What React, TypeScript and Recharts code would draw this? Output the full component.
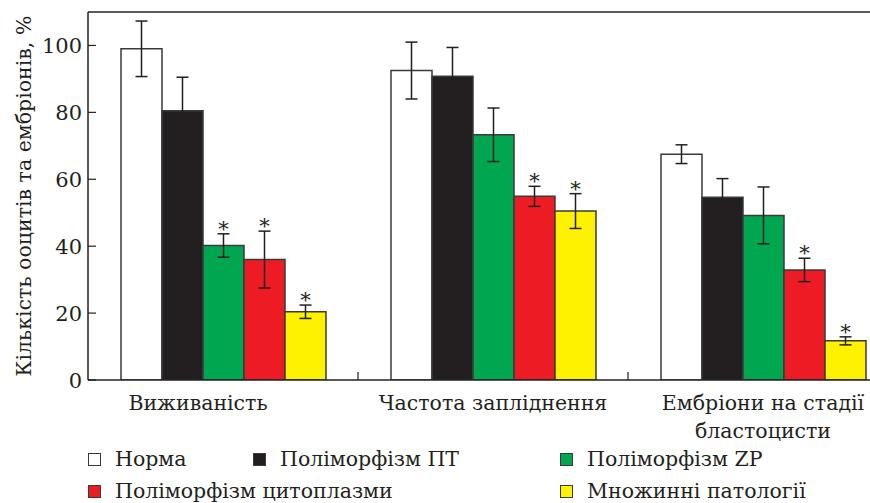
import React from 'react';
import { BarChart, Bar, XAxis, YAxis, ErrorBar, LabelList, ReferenceLine } from 'recharts';

const categories = ['Виживаність', 'Частота запліднення', 'Ембріони на стадії\nбластоцисти'];
const yTicks = [0, 20, 40, 60, 80, 100];

const norma = [99, 92.5, 67.5];
const normaErr = [8.3, 8.5, 2.8];
const pt = [80.5, 90.8, 54.6];
const ptErr = [10, 8.6, 5.6];
const zp = [40.2, 73.3, 49.2];
const zpErr = [3.5, 8, 8.5];
const cyto = [36, 54.9, 32.9];
const cytoErr = [8.5, 3, 3.5];
const multi = [20.4, 50.5, 11.7];
const multiErr = [2, 5.2, 1.2];

const normaSig = [false, false, false];
const ptSig = [false, false, false];
const zpSig = [true, false, false];
const cytoSig = [true, true, true];
const multiSig = [true, true, true];

const seriesNames = ['Норма', 'Поліморфізм ПТ', 'Поліморфізм ZP', 'Поліморфізм цитоплазми', 'Множинні патології'];
const seriesColors = ['#ffffff', '#231f20', '#00a650', '#ed1c24', '#fff200'];

const series = [
  { key: 'norma', err: 'normaErr', values: norma, errs: normaErr, sig: normaSig },
  { key: 'pt', err: 'ptErr', values: pt, errs: ptErr, sig: ptSig },
  { key: 'zp', err: 'zpErr', values: zp, errs: zpErr, sig: zpSig },
  { key: 'cyto', err: 'cytoErr', values: cyto, errs: cytoErr, sig: cytoSig },
  { key: 'multi', err: 'multiErr', values: multi, errs: multiErr, sig: multiSig },
];

const data = categories.map((c, i) => {
  const row: any = { name: c };
  series.forEach((s) => {
    row[s.key] = s.values[i];
    row[s.err] = s.errs[i];
  });
  return row;
});

const FONT = '"DejaVu Serif", serif';
const INK = '#231f20';
const FS = 20.5;

const YTick = (props: any) => {
  const { x, y, payload } = props;
  return (
    <g>
      <line x1={x} y1={y} x2={x + 8} y2={y} stroke={INK} strokeWidth={1.2} />
      <text x={x - 6} y={y} dy="0.36em" textAnchor="end" fontFamily={FONT} fontSize={21} fill={INK}>
        {payload.value}
      </text>
    </g>
  );
};

const XTick = (props: any) => {
  const { x, y, payload, index } = props;
  const lines = String(payload.value).split('\n');
  const half = payload.offset || 135;
  const shift = index === 0 ? -25 : 0;
  return (
    <g>
      {index < categories.length - 1 && (
        <line x1={x + half} y1={y} x2={x + half} y2={y - 8} stroke={INK} strokeWidth={1.2} />
      )}
      {lines.map((l, i) => (
        <text key={i} x={x + shift} y={y + 30 + i * 28} textAnchor="middle" fontFamily={FONT} fontSize={FS} fill={INK}>
          {l}
        </text>
      ))}
    </g>
  );
};

const makeStar = (errs: number[], sig: boolean[]) => (props: any) => {
  const { index, value } = props;
  const vb = props.viewBox || {};
  const x = props.x ?? vb.x;
  const y = props.y ?? vb.y;
  const width = props.width ?? vb.width;
  const height = props.height ?? vb.height;
  if (!sig[index]) return null;
  const v = Array.isArray(value) ? value[1] : value;
  const ppu = height / v;
  const top = y - errs[index] * ppu;
  return (
    <text x={x + width / 2} y={top + 2} textAnchor="middle" fontFamily={FONT} fontSize={21} fill={INK}>
      *
    </text>
  );
};

const YLabel = (props: any) => {
  const vb = props.viewBox || {};
  const cy = vb.y + vb.height / 2;
  const cx = 24;
  return (
    <text
      x={cx}
      y={cy}
      transform={`rotate(-90, ${cx}, ${cy})`}
      textAnchor="middle"
      dominantBaseline="central"
      fontFamily={FONT}
      fontSize={FS}
      fill={INK}
    >
      Кількість ооцитів та ембріонів, %
    </text>
  );
};

const legendLayout = [
  { x: 88, row: 0 },
  { x: 253, row: 0 },
  { x: 560, row: 0 },
  { x: 88, row: 1 },
  { x: 560, row: 1 },
];

export default function App() {
  return (
    <div style={{ position: 'absolute', left: 0, top: 0, width: 870, height: 503, overflow: 'hidden', background: '#fff' }}>
      <BarChart
        width={910}
        height={503}
        data={data}
        margin={{ top: 12, right: 12, bottom: 0, left: 0 }}
        barCategoryGap={33}
        barGap={0}
      >
        <XAxis
          dataKey="name"
          height={123}
          axisLine={{ stroke: INK, strokeWidth: 1.5 }}
          tickLine={false}
          tickSize={0}
          tickMargin={0}
          tick={<XTick />}
          interval={0}
        />
        <YAxis
          width={88}
          domain={[0, 110]}
          ticks={yTicks}
          allowDataOverflow
          axisLine={{ stroke: INK, strokeWidth: 1.5 }}
          tickLine={false}
          tickSize={0}
          tickMargin={0}
          tick={<YTick />}
          label={<YLabel />}
        />
        <ReferenceLine y={110} stroke={INK} strokeWidth={1.5} ifOverflow="visible" />
        {series.map((s, i) => (
          <Bar
            key={s.key}
            dataKey={s.key}
            name={seriesNames[i]}
            fill={seriesColors[i]}
            stroke="#3a3a3a"
            strokeWidth={1.5}
            isAnimationActive={false}
          >
            <ErrorBar dataKey={s.err} width={6} stroke={INK} strokeWidth={1.5} direction="y" />
            <LabelList dataKey={s.key} content={makeStar(s.errs, s.sig)} />
          </Bar>
        ))}
      </BarChart>
      {seriesNames.map((n, i) => {
        const l = legendLayout[i];
        const top = 452 + l.row * 32;
        return (
          <div key={n} style={{ position: 'absolute', left: l.x, top: top - 10, height: 34, display: 'flex', alignItems: 'center' }}>
            <div
              style={{
                width: 11,
                height: 11,
                background: seriesColors[i],
                border: '1.5px solid #3a3a3a',
                marginRight: 14,
              }}
            />
            <span style={{ fontFamily: FONT, fontSize: FS, color: INK, lineHeight: '34px', whiteSpace: 'nowrap' }}>{n}</span>
          </div>
        );
      })}
    </div>
  );
}
